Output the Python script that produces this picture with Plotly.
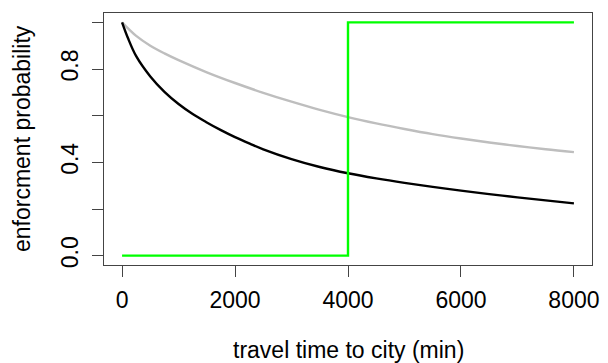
import plotly.graph_objects as go

# travel time (min) grid for the black decay curve
time_black = [0, 100, 250, 500, 750, 1000, 1250, 1500, 1750, 2000, 2250, 2500,
              3000, 3500, 4000, 4500, 5000, 5500, 6000, 6500, 7000, 7500, 8000]
prob_black = [1.0, 0.935, 0.855, 0.768, 0.702, 0.650, 0.607, 0.571, 0.538, 0.508, 0.481, 0.456,
              0.414, 0.380, 0.353, 0.331, 0.312, 0.295, 0.279, 0.264, 0.250, 0.237, 0.224]

# travel time (min) grid for the grey decay curve
time_grey = [0, 250, 500, 750, 1000, 1500, 2000, 2500, 3000, 3500, 4000,
             4500, 5000, 5500, 6000, 6500, 7000, 7500, 8000]
prob_grey = [1.0, 0.942, 0.900, 0.867, 0.838, 0.786, 0.740, 0.698, 0.660, 0.625, 0.594,
             0.567, 0.543, 0.521, 0.502, 0.485, 0.470, 0.456, 0.444]

# step function
step_x = [0, 4000, 8000]
step_y = [0, 1, 1]

x_ticks = [0, 2000, 4000, 6000, 8000]
x_tick_text = ["0", "2000", "4000", "6000", "8000"]
y_ticks = [0.0, 0.2, 0.4, 0.6, 0.8, 1.0]
y_tick_text = ["0.0", "", "0.4", "", "0.8", ""]

x_title = "travel time to city (min)"
y_title = "enforcment probability"

fig = go.Figure()
fig.add_trace(go.Scatter(x=time_grey, y=prob_grey, mode="lines",
                         line=dict(color="#BEBEBE", width=2.4, shape="spline", smoothing=1),
                         showlegend=False))
fig.add_trace(go.Scatter(x=time_black, y=prob_black, mode="lines",
                         line=dict(color="black", width=2.4, shape="spline", smoothing=1),
                         showlegend=False))
fig.add_trace(go.Scatter(x=step_x, y=step_y, mode="lines",
                         line=dict(color="#00FF00", width=2.4, shape="hv"), showlegend=False))

font = dict(family="Liberation Sans, Arial, sans-serif", size=23, color="black")
axcol = "#444444"
fig.update_layout(
    width=608, height=363,
    margin=dict(l=104, r=16, t=13, b=98),
    paper_bgcolor="white", plot_bgcolor="white",
    font=font,
    xaxis=dict(range=[-320, 8320], tickvals=x_ticks, ticktext=x_tick_text,
               showgrid=False, zeroline=False, showline=True, mirror=True,
               linecolor=axcol, linewidth=1.3, ticks="outside", ticklen=11,
               tickcolor=axcol, tickwidth=1.3, tickfont=font, automargin=False,
               ticklabelstandoff=3),
    yaxis=dict(range=[-0.04, 1.04], tickvals=y_ticks, ticktext=y_tick_text,
               showgrid=False, zeroline=False, showline=True, mirror=True,
               linecolor=axcol, linewidth=1.3, ticks="outside", ticklen=11,
               tickcolor=axcol, tickwidth=1.3, tickfont=font, tickangle=-90,
               automargin=False, ticklabelstandoff=5),
    annotations=[
        dict(text=x_title, xref="paper", yref="paper", x=0.5, y=0, yshift=-85,
             xanchor="center", yanchor="middle", showarrow=False, font=font),
        dict(text=y_title, xref="paper", yref="paper", x=0, y=0.5, xshift=-82,
             xanchor="center", yanchor="middle", textangle=-90, showarrow=False, font=font),
    ],
)
fig.write_html("out.html", config={"displayModeBar": False},
               post_script="document.body.style.margin='0';")
